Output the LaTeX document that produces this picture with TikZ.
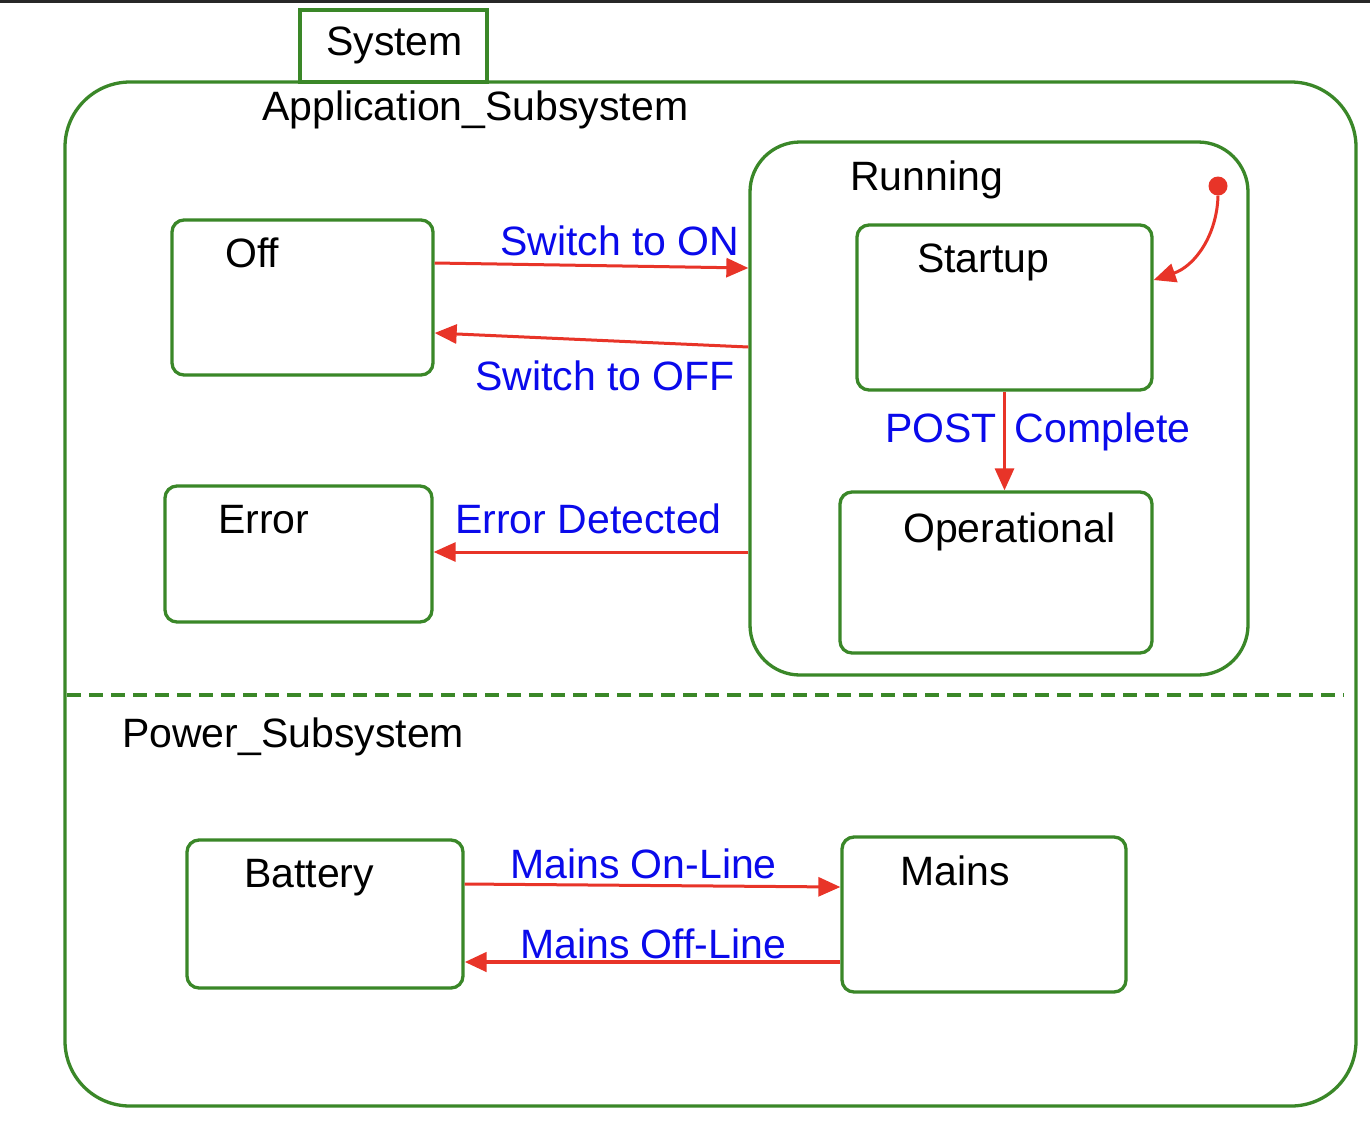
\documentclass[tikz,border=0pt]{standalone}
\usepackage{fontspec}
\setmainfont{Liberation Sans}
\usetikzlibrary{arrows.meta}
\definecolor{sgreen}{RGB}{58,135,40}
\definecolor{sred}{RGB}{232,52,40}
\definecolor{sblue}{RGB}{10,10,235}
\definecolor{topbar}{RGB}{40,40,40}
\tikzset{
  statebox/.style={draw=sgreen, line width=3.3pt, rounded corners=12pt, inner sep=0pt},
  txt/.style={anchor=base west, inner sep=0pt, font=\fontsize{41}{49}\selectfont},
  lbl/.style={txt, text=sblue},
  trans/.style={draw=sred, line width=3pt, -{Triangle[length=22pt,width=19pt]}},
}
\begin{document}
\begin{tikzpicture}[x=1pt,y=-1pt]
\useasboundingbox (0,0) rectangle (1370,1128);
\fill[white] (0,0) rectangle (1370,1128);
\fill[topbar] (0,0) rectangle (1370,2.5);
% outer composite
\node[draw=sgreen, line width=3.3pt, rounded corners=65pt, inner sep=0pt, minimum width=1291pt, minimum height=1024pt] (outer) at (710.5,594) {};
\node[draw=sgreen, line width=3.3pt, inner sep=0pt, minimum width=187pt, minimum height=72pt] (tab) at (393.5,46) {};
\node[txt] (tsys) at (326,55) {System};
\node[txt] (tapp) at (262,120) {Application\_Subsystem};
% regions separator
\draw[sgreen, line width=4pt, dash pattern=on 14pt off 8pt] (67,695) -- (1344,695);
\node[txt] (tpow) at (122,747) {Power\_Subsystem};
% states
\node[statebox, rounded corners=50pt, minimum width=498pt, minimum height=533pt] (run) at (999,408.5) {};
\node[txt] (trun) at (850,190) {Running};
\node[statebox, minimum width=261pt, minimum height=155pt] (off) at (302.5,297.5) {};
\node[txt] (toff) at (225,267) {Off};
\node[statebox, minimum width=267pt, minimum height=136pt] (err) at (298.5,554) {};
\node[txt] (terr) at (218,533) {Error};
\node[statebox, minimum width=295pt, minimum height=165pt] (start) at (1004.5,307.5) {};
\node[txt] (tstart) at (917,272) {Startup};
\node[statebox, minimum width=312pt, minimum height=161pt] (oper) at (996,572.5) {};
\node[txt] (toper) at (903,542) {Operational};
\node[statebox, minimum width=276pt, minimum height=148pt] (bat) at (325,914) {};
\node[txt] (tbat) at (244,887) {Battery};
\node[statebox, minimum width=284pt, minimum height=155pt] (mains) at (984,914.5) {};
\node[txt] (tmains) at (900,885) {Mains};
% initial pseudostate
\node[circle, fill=sred, inner sep=0pt, minimum size=19pt] (init) at (1218,186) {};
% transitions
\draw[trans] ([yshift=34.5pt]off.east) -- ([yshift=140.5pt]run.west);
\node[lbl] (lon) at (500,255) {Switch to ON};
\draw[trans] ([yshift=61.5pt]run.west) -- ([yshift=-35.5pt]off.east);
\node[lbl] (loff) at (475,390) {Switch to OFF};
\draw[trans] ([yshift=-143.5pt]run.west) -- ([yshift=2pt]err.east);
\node[lbl] (lerr) at (455,533) {Error Detected};
\draw[trans] (start.south) -- (start.south |- oper.north);
\node[lbl] (lpost) at (885,442) {POST\hspace{18pt}Complete};
\draw[trans] (init.south) .. controls (1217,235) and (1195,266) .. ([yshift=27.5pt]start.east);
\draw[trans] ([yshift=30pt]bat.east) -- ([yshift=27.5pt]mains.west);
\node[lbl] (lmon) at (510,878) {Mains On-Line};
\draw[trans, line width=4.5pt] ([yshift=-47.5pt]mains.west) -- ([yshift=-48pt]bat.east);
\node[lbl] (lmoff) at (520,958) {Mains Off-Line};
\end{tikzpicture}
\end{document}
